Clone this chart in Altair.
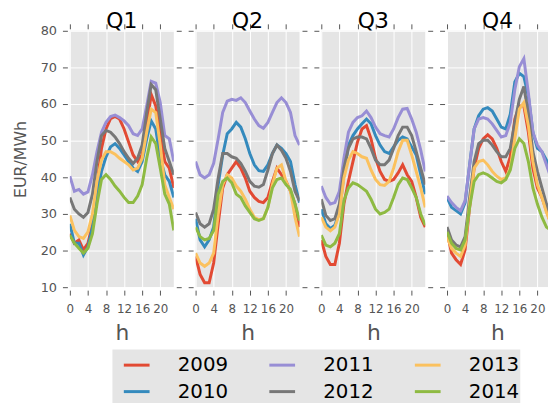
import altair as alt
import pandas as pd

hours = list(range(24))
years = ["2009", "2010", "2011", "2012", "2013", "2014"]
quarters = ["Q1", "Q2", "Q3", "Q4"]
palette = ["#E24A33", "#348ABD", "#988ED5", "#777777", "#FBC15E", "#8EBA42"]
y_ticks = [10, 20, 30, 40, 50, 60, 70, 80]
x_ticks = [0, 4, 8, 12, 16, 20]

# ---- Q1 ----
q1_2009 = [24.6, 22.0, 22.9, 20.2, 22.0, 27.3, 38.0, 47.9, 53.2, 56.0, 56.6, 55.9, 53.2, 49.6, 46.1, 44.3, 46.1, 54.1, 62.6, 59.5, 52.3, 44.3, 42.5, 37.1]
q1_2010 = [27.3, 22.0, 22.0, 18.8, 21.0, 26.4, 35.4, 41.6, 45.6, 48.3, 49.2, 47.9, 46.1, 44.3, 42.5, 41.6, 44.3, 50.5, 55.4, 53.2, 45.2, 40.7, 38.9, 34.5]
q1_2011 = [40.3, 36.2, 36.7, 35.4, 36.0, 40.7, 47.0, 52.3, 55.0, 56.6, 57.0, 56.3, 55.4, 54.1, 51.9, 51.4, 53.2, 59.5, 66.2, 65.7, 60.4, 51.4, 50.5, 44.3]
q1_2012 = [34.5, 31.3, 30.0, 29.1, 30.4, 35.4, 44.3, 51.4, 52.8, 52.3, 51.0, 49.2, 47.0, 45.2, 43.8, 45.2, 48.8, 57.7, 65.3, 63.9, 55.9, 47.9, 44.3, 40.7]
q1_2013 = [29.6, 25.5, 23.8, 23.3, 25.1, 30.0, 38.9, 44.7, 47.0, 47.0, 46.3, 45.2, 44.3, 43.4, 42.0, 42.5, 45.2, 52.3, 58.6, 57.7, 48.8, 38.0, 34.5, 31.3]
q1_2014 = [24.2, 22.0, 20.6, 19.3, 20.6, 24.6, 32.7, 39.4, 40.7, 39.4, 37.6, 36.2, 34.5, 33.1, 33.1, 34.9, 38.0, 45.2, 51.0, 49.2, 42.5, 35.4, 32.7, 25.5]

# ---- Q2 ----
q2_2009 = [18.4, 13.5, 11.2, 11.2, 16.6, 27.3, 37.1, 40.7, 42.5, 44.3, 42.5, 39.8, 36.2, 34.5, 33.4, 33.1, 34.5, 38.9, 42.5, 40.7, 38.9, 36.2, 32.7, 26.4]
q2_2010 = [28.7, 22.9, 21.0, 22.9, 26.4, 38.0, 46.1, 51.9, 53.2, 55.0, 53.7, 50.5, 46.5, 43.4, 41.8, 41.6, 43.4, 46.5, 48.8, 47.9, 46.5, 44.3, 38.0, 33.1]
q2_2011 = [44.3, 40.7, 39.8, 40.7, 43.8, 50.5, 57.7, 60.8, 61.3, 61.0, 61.7, 60.4, 58.1, 55.9, 54.1, 53.4, 55.0, 57.7, 60.4, 61.7, 60.4, 57.7, 51.4, 48.8]
q2_2012 = [30.4, 27.3, 26.4, 27.3, 31.3, 39.8, 46.5, 46.5, 45.6, 45.2, 43.8, 41.6, 38.9, 37.6, 37.3, 38.0, 42.0, 46.5, 48.8, 47.4, 45.2, 41.6, 36.2, 33.6]
q2_2013 = [19.3, 16.6, 15.7, 16.6, 19.3, 30.0, 38.0, 40.7, 39.8, 37.6, 36.2, 34.0, 31.3, 29.1, 28.4, 28.7, 31.8, 38.0, 42.5, 43.4, 38.9, 36.2, 29.1, 23.8]
q2_2014 = [26.4, 23.8, 22.9, 23.3, 25.5, 35.4, 38.9, 39.8, 38.5, 35.4, 34.5, 32.2, 30.4, 28.7, 28.2, 28.7, 31.8, 37.1, 39.4, 39.8, 38.0, 36.7, 32.7, 28.2]

# ---- Q3 ----
q3_2009 = [22.9, 18.4, 16.2, 16.2, 22.0, 32.7, 38.9, 44.3, 49.6, 53.2, 54.1, 50.5, 45.2, 41.6, 39.4, 38.9, 39.4, 41.2, 43.4, 40.7, 38.9, 34.5, 29.1, 26.4]
q3_2010 = [31.3, 27.3, 26.0, 26.9, 30.4, 40.7, 48.8, 51.4, 53.2, 54.6, 55.9, 54.6, 51.4, 48.8, 47.0, 46.5, 48.3, 50.1, 51.0, 50.5, 48.3, 46.1, 40.7, 35.4]
q3_2011 = [37.6, 34.5, 32.7, 33.1, 36.2, 45.2, 52.3, 55.0, 56.3, 56.8, 58.1, 56.3, 53.7, 51.9, 51.4, 51.0, 53.2, 56.3, 58.6, 58.8, 55.9, 52.3, 47.4, 41.6]
q3_2012 = [34.0, 29.6, 28.2, 28.7, 32.7, 42.5, 47.9, 50.5, 51.0, 51.0, 50.5, 47.9, 44.7, 43.4, 43.4, 44.7, 47.9, 51.4, 53.7, 53.7, 51.4, 47.0, 42.5, 38.0]
q3_2013 = [29.1, 26.4, 25.4, 26.4, 30.0, 39.8, 44.7, 47.0, 46.5, 45.6, 45.2, 42.0, 39.4, 38.0, 37.8, 38.9, 42.5, 47.0, 50.1, 50.1, 46.1, 41.6, 37.1, 31.8]
q3_2014 = [24.2, 21.5, 21.0, 22.0, 24.6, 33.6, 37.1, 38.5, 38.0, 37.1, 36.2, 34.0, 31.3, 30.0, 30.4, 31.3, 34.5, 38.0, 39.8, 39.4, 37.1, 34.5, 30.0, 26.9]

# ---- Q4 ----
q4_2009 = [25.1, 19.3, 17.5, 16.2, 20.2, 31.8, 42.5, 47.9, 50.5, 51.6, 50.5, 47.9, 44.3, 41.6, 45.6, 55.9, 59.5, 59.5, 52.3, 42.5, 37.1, 34.5, 30.9, 27.3]
q4_2010 = [34.5, 31.8, 30.9, 30.0, 33.1, 43.4, 53.2, 56.8, 58.6, 59.0, 58.1, 55.9, 53.7, 53.2, 57.2, 66.0, 68.4, 67.5, 62.1, 52.3, 47.9, 47.0, 44.7, 40.7]
q4_2011 = [34.9, 33.1, 31.8, 30.9, 33.6, 43.4, 53.2, 55.9, 56.3, 55.9, 54.6, 52.8, 51.0, 51.4, 55.0, 63.9, 70.2, 72.4, 63.0, 52.3, 48.8, 47.0, 43.4, 39.8]
q4_2012 = [26.4, 22.9, 21.5, 21.0, 23.8, 34.5, 44.3, 49.2, 50.1, 50.1, 48.8, 47.0, 45.6, 45.6, 47.9, 55.0, 61.3, 64.8, 57.2, 47.0, 41.6, 37.1, 32.7, 29.1]
q4_2013 = [23.8, 20.6, 19.3, 18.4, 21.5, 32.7, 42.5, 44.3, 44.7, 43.4, 41.6, 40.3, 39.4, 39.8, 42.5, 50.5, 58.6, 60.4, 54.1, 44.3, 38.0, 34.5, 30.4, 27.3]
q4_2014 = [25.1, 22.0, 20.6, 20.2, 22.9, 31.8, 38.9, 40.7, 41.2, 40.7, 39.8, 38.9, 38.5, 39.4, 42.0, 47.9, 50.5, 49.2, 44.3, 37.1, 32.7, 29.1, 26.4, 25.5]

series = {
    "Q1": [q1_2009, q1_2010, q1_2011, q1_2012, q1_2013, q1_2014],
    "Q2": [q2_2009, q2_2010, q2_2011, q2_2012, q2_2013, q2_2014],
    "Q3": [q3_2009, q3_2010, q3_2011, q3_2012, q3_2013, q3_2014],
    "Q4": [q4_2009, q4_2010, q4_2011, q4_2012, q4_2013, q4_2014],
}

rows = []
for q in quarters:
    for yr, vals in zip(years, series[q]):
        for h, v in zip(hours, vals):
            rows.append({"q": q, "year": yr, "h": h, "v": v})
df = pd.DataFrame(rows)

cscale = alt.Scale(domain=years, range=palette)
yscale = alt.Scale(domain=[10, 80], nice=False, zero=False)

legend = alt.Legend(
    orient="none", legendX=43, legendY=322, columns=3, title=None,
    symbolType="stroke", symbolStrokeWidth=3, symbolSize=676, symbolOffset=9,
    labelFontSize=20, labelColor="black", labelOffset=27,
    columnPadding=31, rowPadding=2, padding=1,
    fillColor="#E5E5E5", labelFont="DejaVu Sans",
)

W, H = 105, 259
PX_PER_H = W / 23.0
AX_OFF = 2.5


def panel(q, idx):
    d = df[df.q == q]
    first = idx == 0
    last = idx == 3
    # the last panel is cut by the page edge, as in the reference
    width = 102 if last else W
    xscale = alt.Scale(domain=[0, width / PX_PER_H], nice=False, zero=False)
    x_axis = alt.Axis(values=x_ticks, title="h", grid=True, gridColor="white", gridWidth=1,
                      domain=False, offset=3, tickColor="#555555", tickSize=5, labelFontSize=12,
                      labelColor="#555555", labelOverlap=False, labelPadding=9, labelFlush=False,
                      titleFontSize=22, titleColor="#555555", titleFontWeight="normal",
                      titlePadding=8, format="d")
    if first:
        y_axis = alt.Axis(values=y_ticks, title="EUR/MWh", grid=True, gridColor="white", gridWidth=1,
                          domain=False, offset=AX_OFF, tickColor="#555555", tickSize=5,
                          labelFontSize=13, labelColor="#555555", labelPadding=6, titleFontSize=16,
                          titleColor="#555555", titleFontWeight="normal", titlePadding=12)
    else:
        y_axis = alt.Axis(values=y_ticks, title=None, labels=False, grid=True, gridColor="white",
                          gridWidth=1, domain=False, offset=AX_OFF, tickColor="#555555", tickSize=5)
    layers = []
    for i, yr in enumerate(years):
        layers.append(
            alt.Chart(d[d.year == yr]).mark_line(strokeWidth=3, clip=True).encode(
                x=alt.X("h:Q", scale=xscale, axis=x_axis if i == 0 else None),
                y=alt.Y("v:Q", scale=yscale, axis=y_axis if i == 0 else None),
                color=alt.Color("year:N", scale=cscale, legend=legend),
            )
        )
    top_axis = alt.Axis(orient="top", values=x_ticks, labels=False, title=None, grid=False,
                        domain=False, offset=2, tickColor="#555555", tickSize=5)
    right_axis = alt.Axis(orient="right", values=y_ticks, labels=False, title=None, grid=False,
                          domain=False, offset=AX_OFF, tickColor="#555555", tickSize=5)
    ghost = alt.Chart(d).mark_point(opacity=0, clip=True).encode(
        x=alt.X("h:Q", scale=xscale, axis=top_axis),
        y=alt.Y("v:Q", scale=yscale, axis=None if last else right_axis),
    )
    layers.append(ghost)
    return alt.layer(*layers).resolve_axis(x="independent", y="independent").properties(
        width=width, height=H,
        title=alt.Title(q, fontSize=22, fontWeight="normal", color="black", offset=-10,
                        font="DejaVu Sans"),
    )


chart = alt.hconcat(*[panel(q, i) for i, q in enumerate(quarters)], spacing=6).properties(
    padding={"left": 3.5, "top": 0, "right": 0, "bottom": 0}
).configure(font="DejaVu Sans").configure_view(fill="#E5E5E5", stroke=None)

chart.save("out.html", embed_options={"renderer": "svg", "actions": False})
